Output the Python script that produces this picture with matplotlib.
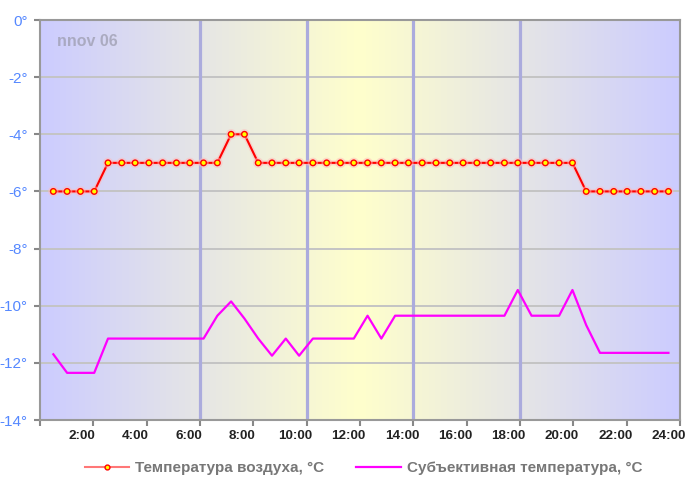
import numpy as np
import matplotlib
matplotlib.use("Agg")
import matplotlib.pyplot as plt
import matplotlib.patheffects as pe
from matplotlib.colors import LinearSegmentedColormap
from matplotlib.lines import Line2D
from matplotlib.transforms import ScaledTranslation

plt.rcParams['font.family'] = ['Liberation Sans', 'DejaVu Sans']

# measurement times (hh:mm)
times = ["0:30", "1:01", "1:31", "2:02", "2:33", "3:04", "3:34", "4:05", "4:36", "5:07",
         "5:37", "6:08", "6:39", "7:10", "7:40", "8:11", "8:42", "9:13", "9:43", "10:14",
         "10:45", "11:16", "11:46", "12:17", "12:48", "13:19", "13:49", "14:20", "14:51", "15:22",
         "15:52", "16:23", "16:54", "17:25", "17:55", "18:26", "18:57", "19:28", "19:58", "20:29",
         "21:00", "21:31", "22:01", "22:32", "23:03", "23:34"]

air_temp = [-6, -6, -6, -6, -5, -5, -5, -5, -5, -5,
            -5, -5, -5, -4, -4, -5, -5, -5, -5, -5,
            -5, -5, -5, -5, -5, -5, -5, -5, -5, -5,
            -5, -5, -5, -5, -5, -5, -5, -5, -5, -6,
            -6, -6, -6, -6, -6, -6]

feels_temp = [-11.7, -12.35, -12.35, -12.35, -11.15, -11.15, -11.15, -11.15, -11.15, -11.15,
              -11.15, -11.15, -10.35, -9.85, -10.45, -11.15, -11.75, -11.15, -11.75, -11.15,
              -11.15, -11.15, -11.15, -10.35, -11.15, -10.35, -10.35, -10.35, -10.35, -10.35,
              -10.35, -10.35, -10.35, -10.35, -9.45, -10.35, -10.35, -10.35, -9.45, -10.68,
              -11.65, -11.65, -11.65, -11.65, -11.65, -11.65]

tick_hours = [0, 2, 4, 6, 8, 10, 12, 14, 16, 18, 20, 22, 24]
tick_labels = ["", "2:00", "4:00", "6:00", "8:00", "10:00", "12:00", "14:00", "16:00",
               "18:00", "20:00", "22:00", "24:00"]
y_ticks = [0, -2, -4, -6, -8, -10, -12, -14]
marker_hours = [6, 10, 14, 18]

x = [int(t.split(':')[0]) + int(t.split(':')[1]) / 60 for t in times]

W, H = 687, 487
fig = plt.figure(figsize=(W / 100, H / 100), dpi=100)
ax = fig.add_axes([40 / W, (H - 420) / H, 640 / W, 400 / H])

# background gradient blue -> yellow -> blue
cmap = LinearSegmentedColormap.from_list('bg', ['#ccccff', '#ffffcc', '#ccccff'])
ax.imshow(np.linspace(0, 1, 256).reshape(1, -1), cmap=cmap, aspect='auto',
          extent=[0, 24, -14, 0], zorder=0)

for yv in y_ticks[1:-1]:
    ax.axhline(yv, color='#c4c4c4', lw=1.4, zorder=1)
for h in marker_hours:
    ax.axvline(h, color='#ababdd', lw=2.3, zorder=1)

ax.plot(x, air_temp, color='#ff0000', lw=1.5, marker='o', ms=4, mfc='#ffff00',
        mec='#ff0000', mew=1, zorder=4,
        path_effects=[pe.Stroke(linewidth=3.5, foreground='#ffbbbb', alpha=0.5), pe.Normal()])
ax.plot(x, feels_temp, color='#ff00ff', lw=1.6, zorder=3)

ax.set_xlim(0, 24)
ax.set_ylim(-14, 0)
ax.set_xticks(tick_hours)
ax.set_xticklabels([])
off = ScaledTranslation(-11.5 / 100, -16 / 100, fig.dpi_scale_trans)
for h, s in zip(tick_hours, tick_labels):
    ax.text(h, 0, s, transform=ax.get_xaxis_transform() + off, ha='center', va='center',
            fontsize=9.7, fontweight='bold', color='#222222', clip_on=False)
ax.set_yticks(y_ticks)
ax.set_yticklabels([f'{v}°' for v in y_ticks], fontsize=11, color='#5588ff')
ax.tick_params(axis='both', direction='out', length=4, width=1.5, color='#888888')
ax.tick_params(axis='y', pad=5)

for sp in ax.spines.values():
    sp.set_color('#999999')
    sp.set_linewidth(1.5)

ax.text(0.62, -0.75, 'nnov 06', fontsize=11.5, fontweight='bold', color='#9999aa',
        alpha=0.7, ha='left', va='center', zorder=2)

handles = [Line2D([], [], color='#ff7777', lw=1.5, marker='o', ms=3.5, mfc='#ffff00',
                  mec='#ff0000', mew=1),
           Line2D([], [], color='#ff00ff', lw=1.6)]
leg = fig.legend(handles, ['Температура воздуха, °C', 'Субъективная температура, °C'],
                 loc='center', bbox_to_anchor=(363.5 / W, 1 - 468 / H), ncol=2,
                 frameon=False, fontsize=11, handlelength=2.9, handletextpad=0.4,
                 columnspacing=2.1)
for t in leg.get_texts():
    t.set_color('#777777')
    t.set_fontweight('bold')

fig.savefig('out.png', dpi=100)
